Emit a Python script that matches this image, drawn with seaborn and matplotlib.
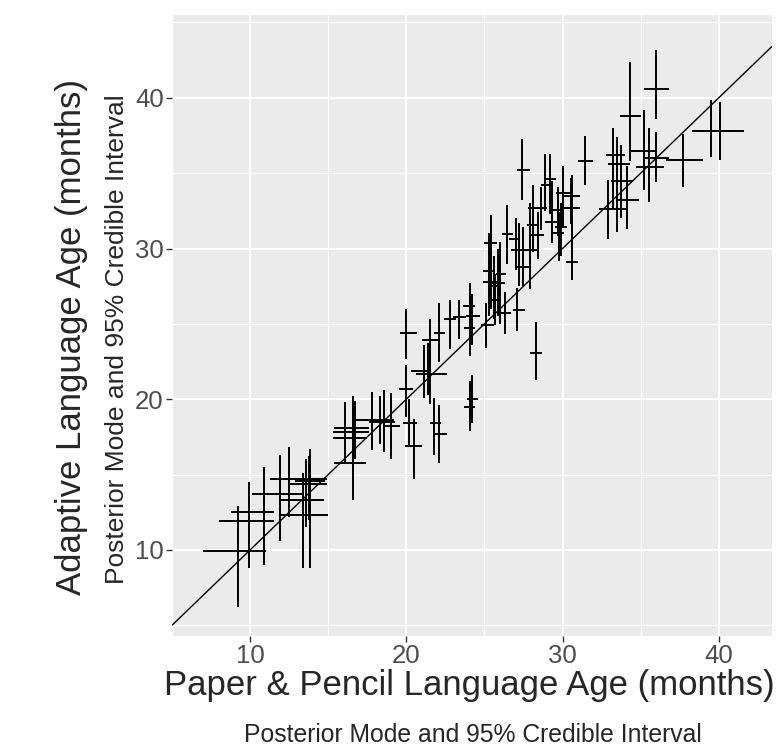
import numpy as np
import pandas as pd
import matplotlib
matplotlib.use('Agg')
import matplotlib.pyplot as plt
import seaborn as sns

# posterior mode and 95% credible interval, paper & pencil (x) vs adaptive (y)
pp_mode = [9.2, 9.9, 10.9, 11.9, 12.5, 13.8, 13.6, 13.4, 13.85, 16.1, 16.7, 16.6, 16.6,
           17.8, 18.3, 18.6, 19.0, 20.0, 20.2, 20.5, 20.0, 21.1, 21.4, 21.5, 21.5, 22.1,
           22.8, 23.4, 24.1, 24.2, 24.1, 25.1, 24.1, 24.2, 21.8, 22.1, 25.4, 25.3, 25.4,
           25.6, 25.7, 26.0, 26.45, 27.0, 27.2, 27.9, 27.5, 26.3, 27.1, 28.3, 27.4, 29.2,
           28.9, 30.0, 31.45, 30.55, 30.6, 30.6, 29.7, 29.3, 29.9, 28.1, 28.4, 29.8, 28.1,
           28.6, 34.3, 36.0, 33.2, 33.5, 33.75, 34.1, 32.9, 35.2, 36.0, 35.55, 37.7, 39.5,
           40.1, 25.9]
pp_lo = [7.0, 8.0, 8.8, 10.1, 11.3, 12.9, 12.4, 12.0, 12.0, 15.3, 15.4, 15.3, 15.4,
         16.8, 17.2, 17.6, 18.5, 19.5, 19.8, 19.9, 19.6, 20.3, 20.6, 21.0, 21.0, 21.8,
         22.4, 23.0, 23.6, 23.8, 23.7, 24.8, 23.7, 23.9, 21.5, 21.8, 25.0, 24.9, 24.9,
         25.3, 25.4, 25.75, 26.1, 26.6, 26.7, 27.5, 27.1, 25.9, 26.8, 27.9, 27.1, 28.8,
         28.6, 29.6, 31.0, 30.05, 30.1, 30.2, 29.3, 28.9, 29.5, 27.7, 28.0, 29.4, 27.8,
         28.4, 33.7, 35.2, 32.8, 32.9, 33.1, 33.4, 32.35, 34.4, 35.2, 34.7, 36.6, 38.3,
         38.8, 25.5]
pp_hi = [11.0, 11.5, 11.5, 13.4, 14.9, 14.8, 14.9, 14.7, 15.0, 17.6, 17.6, 17.5, 17.4,
         19.0, 19.2, 19.3, 19.6, 20.4, 20.7, 21.0, 20.7, 21.6, 22.0, 22.0, 22.6, 22.5,
         23.2, 23.8, 24.4, 24.7, 24.4, 25.6, 24.4, 24.6, 22.2, 22.6, 25.8, 25.6, 25.9,
         26.0, 26.0, 26.4, 26.8, 27.3, 27.6, 28.4, 28.0, 26.7, 27.6, 28.7, 27.9, 29.6,
         29.3, 30.6, 31.95, 31.1, 31.1, 31.0, 30.0, 29.8, 30.3, 28.5, 28.8, 30.1, 28.5,
         29.0, 35.0, 36.8, 34.0, 34.3, 34.5, 34.9, 34.2, 35.9, 36.8, 36.5, 39.0, 40.8,
         41.6, 26.3]
ad_mode = [9.9, 11.9, 12.5, 13.7, 14.7, 14.6, 14.4, 13.3, 12.3, 17.8, 18.1, 17.45, 15.8,
           18.6, 18.6, 18.5, 18.2, 20.7, 18.4, 16.9, 24.4, 21.9, 21.7, 23.9, 21.7, 24.4,
           25.3, 25.45, 26.2, 25.5, 24.7, 24.9, 19.5, 20.0, 18.4, 17.7, 30.35, 28.5, 27.8,
           27.5, 26.6, 28.3, 30.95, 30.6, 29.9, 29.9, 28.8, 25.75, 25.9, 23.1, 35.2, 34.6,
           34.2, 33.7, 35.8, 33.5, 32.7, 29.1, 32.55, 31.75, 31.4, 31.55, 30.9, 31.0, 32.7,
           32.7, 38.8, 40.6, 36.2, 35.6, 34.45, 33.2, 32.6, 36.5, 36.0, 35.4, 35.9, 37.8,
           37.8, 27.7]
ad_lo = [6.2, 8.8, 9.0, 10.6, 12.2, 12.0, 11.5, 8.8, 8.8, 15.75, 16.0, 14.6, 13.3,
         16.6, 17.0, 16.5, 16.0, 18.85, 16.8, 14.7, 22.7, 20.1, 20.3, 22.4, 19.7, 22.5,
         23.3, 24.0, 24.7, 23.6, 22.9, 23.4, 17.9, 18.4, 16.3, 15.8, 29.2, 25.5, 26.0,
         25.3, 24.9, 25.0, 29.0, 28.6, 27.5, 27.3, 27.5, 24.3, 24.5, 21.3, 33.2, 32.3,
         32.5, 31.5, 34.2, 31.6, 30.9, 27.9, 30.8, 30.35, 29.5, 29.8, 29.3, 29.2, 29.9,
         31.2, 35.8, 38.6, 32.7, 31.1, 32.0, 31.3, 30.6, 33.9, 34.4, 33.1, 34.1, 36.1,
         35.9, 25.5]
ad_hi = [12.9, 14.5, 15.5, 16.3, 16.8, 16.2, 16.0, 15.1, 16.7, 19.8, 19.9, 20.2, 19.5,
         20.5, 20.2, 20.6, 20.4, 22.3, 20.0, 18.7, 26.0, 23.6, 23.7, 25.3, 23.6, 26.4,
         26.6, 26.6, 27.7, 27.0, 26.3, 26.4, 21.2, 21.6, 20.1, 19.6, 32.2, 31.0, 29.8,
         29.5, 28.3, 30.45, 32.9, 32.0, 31.7, 33.0, 31.4, 27.1, 27.4, 25.15, 37.3, 36.3,
         36.3, 35.5, 37.5, 34.7, 34.9, 31.0, 34.1, 34.45, 33.0, 33.2, 32.4, 32.4, 34.2,
         34.1, 42.4, 43.2, 38.0, 37.4, 36.9, 35.5, 34.55, 39.2, 37.7, 38.0, 37.6, 39.85,
         39.7, 30.0]

df = pd.DataFrame({'pp': pp_mode, 'pp_lo': pp_lo, 'pp_hi': pp_hi,
                   'ad': ad_mode, 'ad_lo': ad_lo, 'ad_hi': ad_hi})

sns.set_theme(style='darkgrid', rc={'axes.facecolor': '#EBEBEB',
                                    'grid.color': 'white'})
plt.rcParams['font.family'] = ['Liberation Sans', 'DejaVu Sans']

fig = plt.figure(figsize=(7.82, 7.48), dpi=100)
ax = fig.add_axes([0.22, 0.15, 0.767, 0.83])

# crosshair intervals
ax.errorbar(df['pp'], df['ad'],
            xerr=[df['pp'] - df['pp_lo'], df['pp_hi'] - df['pp']],
            yerr=[df['ad'] - df['ad_lo'], df['ad_hi'] - df['ad']],
            fmt='none', ecolor='black', elinewidth=1.4, capsize=0, zorder=3)
ax.axline((0, 0), slope=1, color='black', lw=1.0, zorder=4)

ax.set_xlim(5.3, 43.4)
ax.set_ylim(4.3, 45.5)
ax.set_xticks([10, 20, 30, 40])
ax.set_yticks([10, 20, 30, 40])
ax.set_xticks([5, 15, 25, 35], minor=True)
ax.set_yticks([5, 15, 25, 35, 45], minor=True)
ax.grid(which='major', color='white', lw=1.5)
ax.grid(which='minor', color='white', lw=0.8)
for s in ax.spines.values():
    s.set_visible(False)
ax.tick_params(which='major', length=4, width=1, color='#333333',
               labelsize=18.5, labelcolor='#4D4D4D', pad=2, bottom=True, left=True)
ax.tick_params(which='minor', length=0)
ax.set_xlabel('')
ax.set_ylabel('')

fig.text(0.600, 0.071, 'Paper & Pencil Language Age (months)', ha='center',
         va='baseline', fontsize=25)
fig.text(0.605, 0.008, 'Posterior Mode and 95% Credible Interval', ha='center',
         va='baseline', fontsize=17.8)
fig.text(0.091, 0.549, 'Adaptive Language Age (months)', ha='center', va='center',
         rotation=90, fontsize=25)
fig.text(0.150, 0.546, 'Posterior Mode and 95% Credible Interval', ha='center',
         va='center', rotation=90, fontsize=19)

fig.savefig('out.png', dpi=100)
